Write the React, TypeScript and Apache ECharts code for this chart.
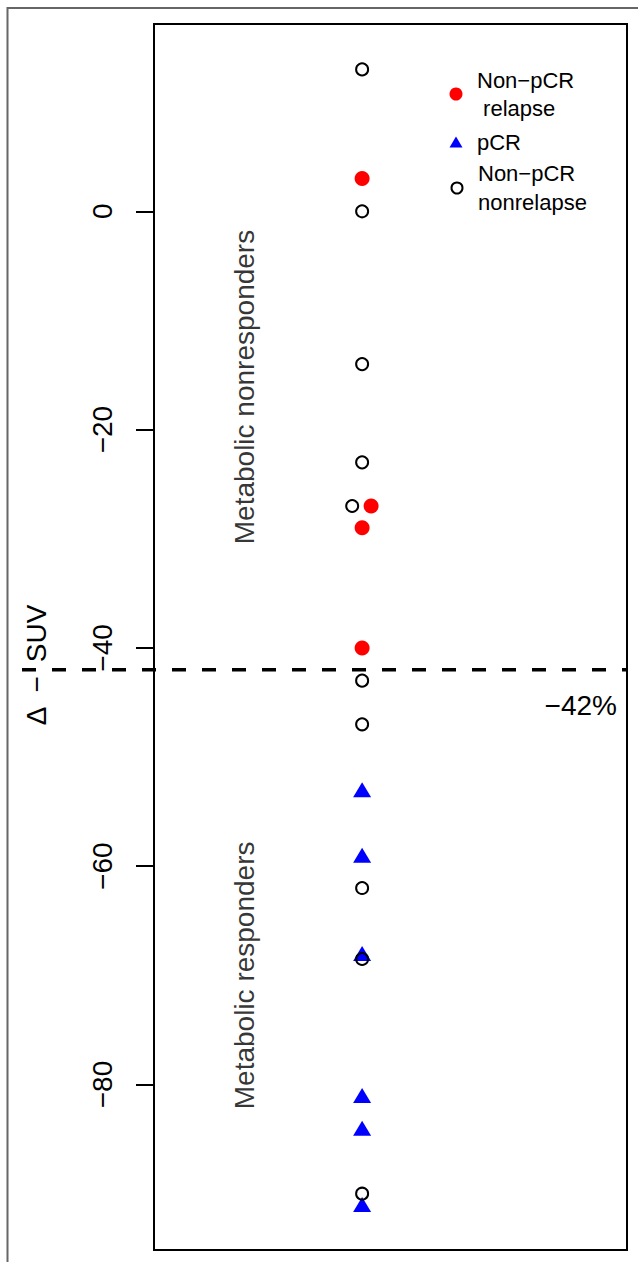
import React, { useEffect, useRef } from "react";
import * as echarts from "echarts";

// ---- data ----
const NAME_RELAPSE = "Non\u2212pCR\n relapse";
const NAME_PCR = "pCR";
const NAME_NONRELAPSE = "Non\u2212pCR\nnonrelapse";

// x = horizontal position in the strip (0..1 of plot width), y = ΔSUV (%)
const relapseX = [0.44, 0.459, 0.44, 0.44];
const relapseY = [3, -27, -29, -40];

const pcrX = [0.44, 0.44, 0.44, 0.44, 0.44, 0.44];
const pcrY = [-53, -59, -68, -81, -84, -91];

const nonrelapseX = [0.44, 0.44, 0.44, 0.44, 0.419, 0.44, 0.44, 0.44, 0.44, 0.44];
const nonrelapseY = [13, 0, -14, -23, -27, -43, -47, -62, -68.5, -90];

const yTicks = [0, -20, -40, -60, -80];
const yMin = -95.16;
const yMax = 17.16;

const cutoff = -42;
const cutoffLabel = "\u221242%";

const regionLabels = ["Metabolic nonresponders", "Metabolic responders"];
const regionX = [0.192, 0.192];
const regionY = [-16.1, -70];

const FONT = "Liberation Sans, Arial, Helvetica, sans-serif";

const zip = (xs: number[], ys: number[]) => xs.map((x, i) => [x, ys[i]]);
const minus = (v: number | string) => String(v).replace("-", "\u2212");

export default function App() {
  const ref = useRef<HTMLDivElement>(null);

  useEffect(() => {
    if (!ref.current) return;
    const chart = echarts.init(ref.current, undefined, { renderer: "svg" });

    const legendBase = {
      orient: "vertical" as const,
      padding: 0,
      itemGap: 0,
      selectedMode: false,
    };
    const legendText = (lh: number, pad: number) => ({
      fontSize: 22,
      color: "#000",
      fontFamily: FONT,
      lineHeight: lh,
      padding: [0, 0, 0, pad],
    });

    chart.setOption({
      animation: false,
      backgroundColor: "#fff",
      textStyle: { fontFamily: FONT },
      grid: {
        left: 154,
        top: 24,
        width: 473,
        height: 1226,
        show: true,
        borderColor: "#000",
        borderWidth: 2,
        backgroundColor: "transparent",
      },
      xAxis: { type: "value", min: 0, max: 1, show: false },
      yAxis: {
        type: "value",
        min: yMin,
        max: yMax,
        name: "\u0394\u2002\u2212\u2002SUV",
        nameLocation: "middle",
        nameRotate: 90,
        nameGap: 104,
        nameTextStyle: {
          fontSize: 28,
          color: "#000",
          fontFamily: FONT,
          padding: [0, 56, 0, 0],
        },
        axisLine: { show: false },
        splitLine: { show: false },
        axisTick: {
          show: true,
          length: 18,
          customValues: yTicks,
          lineStyle: { color: "#000", width: 2 },
        },
        axisLabel: {
          show: true,
          customValues: yTicks,
          rotate: 90,
          margin: 38,
          fontSize: 28,
          color: "#000",
          fontFamily: FONT,
          formatter: (v: number) => minus(v),
        },
      },
      legend: [
        {
          ...legendBase,
          left: 449.5,
          top: 66,
          itemWidth: 13,
          itemHeight: 13,
          textStyle: legendText(28, 9.5),
          data: [{ name: NAME_RELAPSE, icon: "circle" }],
        },
        {
          ...legendBase,
          left: 449.5,
          top: 128,
          itemWidth: 13,
          itemHeight: 11,
          textStyle: legendText(28, 9.5),
          data: [{ name: NAME_PCR, icon: "triangle" }],
        },
        {
          ...legendBase,
          left: 450.5,
          top: 159,
          itemWidth: 11,
          itemHeight: 11,
          textStyle: legendText(29, 10.5),
          data: [{ name: NAME_NONRELAPSE, icon: "circle" }],
        },
      ],
      series: [
        {
          name: "regions",
          type: "scatter",
          symbolSize: 0,
          silent: true,
          data: regionLabels.map((t, i) => ({ name: t, value: [regionX[i], regionY[i]] })),
          label: {
            show: true,
            position: "inside",
            rotate: 90,
            formatter: (p: any) => p.name,
            fontSize: 28,
            color: "#000",
            fontFamily: FONT,
          },
        },
        {
          name: NAME_PCR,
          type: "scatter",
          symbol: "triangle",
          symbolSize: [18, 15],
          itemStyle: { color: "#0000ff", opacity: 1 },
          data: zip(pcrX, pcrY),
        },
        {
          name: NAME_RELAPSE,
          type: "scatter",
          symbol: "circle",
          symbolSize: 15,
          itemStyle: { color: "#ff0000", opacity: 1 },
          data: zip(relapseX, relapseY),
        },
        {
          name: NAME_NONRELAPSE,
          type: "scatter",
          symbol: "circle",
          symbolSize: 12,
          itemStyle: { color: "transparent", borderColor: "#000", borderWidth: 2, opacity: 1 },
          data: zip(nonrelapseX, nonrelapseY),
        },
      ],
    });

    const yPix = chart.convertToPixel({ yAxisIndex: 0 }, cutoff) as number;
    chart.setOption({
      graphic: [
        {
          id: "frame",
          type: "rect",
          silent: true,
          shape: { x: 7.5, y: 8, width: 700, height: 1300 },
          style: { fill: "none", stroke: "#666", lineWidth: 2 },
        },
        {
          id: "cutline",
          type: "line",
          silent: true,
          shape: { x1: 22, y1: yPix, x2: 627, y2: yPix },
          style: { stroke: "#000", lineWidth: 3.5, lineDash: [14, 16] },
        },
        {
          id: "cutlabel",
          type: "text",
          silent: true,
          x: 617,
          y: yPix + 36,
          style: {
            text: cutoffLabel,
            fontSize: 28,
            fill: "#000",
            fontFamily: FONT,
            align: "right",
            verticalAlign: "middle",
          },
        },
      ],
    });

    return () => chart.dispose();
  }, []);

  return (
    <div
      ref={ref}
      style={{ position: "absolute", left: 0, top: 0, width: 638, height: 1262, background: "#fff" }}
    />
  );
}
